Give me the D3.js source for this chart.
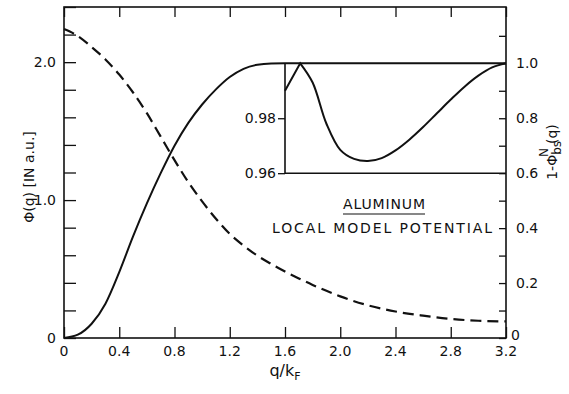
<!DOCTYPE html>
<html><head><meta charset="utf-8">
<script src="https://cdn.jsdelivr.net/npm/d3@7"></script>
<style>body{margin:0;background:#fff}svg{display:block}text{font-family:"DejaVu Sans",sans-serif;fill:#111}</style>
</head><body>
<svg id="c" width="569" height="394"></svg>
<script>
// Dashed curve: Phi(q) in a.u. (left axis)
const phiQ   = [0,0.1,0.2,0.3,0.4,0.5,0.6,0.7,0.8,0.9,1.0,1.1,1.2,1.3,1.4,1.5,1.6,1.7,1.8,1.9,2.0,2.2,2.4,2.6,2.8,3.0,3.2];
const phiVal = [2.24,2.19,2.11,2.02,1.91,1.78,1.63,1.46,1.29,1.13,0.99,0.865,0.755,0.67,0.597,0.537,0.482,0.432,0.385,0.342,0.302,0.237,0.192,0.162,0.138,0.125,0.12];
// Solid curve: 1 - Phi_bs^N(q) (right axis)
const bsQ   = [0,0.1,0.2,0.3,0.4,0.5,0.6,0.7,0.8,0.9,1.0,1.1,1.2,1.3,1.4,1.5,1.6,2.0,2.4,2.8,3.2];
const bsVal = [0,0.012,0.052,0.125,0.24,0.37,0.49,0.6,0.70,0.783,0.85,0.905,0.95,0.98,0.995,0.9995,1.0,1.0,1.0,1.0,1.0];
// Inset curve (after the straight rise from q=1.6 to the peak)
const insQ   = [1.6,1.71,1.8,1.9,2.0,2.1,2.2,2.3,2.4,2.5,2.6,2.7,2.8,2.9,3.0,3.1,3.2];
const insVal = [0.990,1.0,0.993,0.978,0.9685,0.9652,0.9644,0.9655,0.9683,0.9722,0.9768,0.9818,0.9868,0.9915,0.9955,0.9985,1.0];
// Tick labels
const xTicks = [0,0.4,0.8,1.2,1.6,2.0,2.4,2.8,3.2];
const leftLabels = [0,1.0,2.0];
const rightLabels = [0,0.2,0.4,0.6,0.8,1.0];
const insetLabels = [0.96,0.98];

const svg = d3.select("#c");
const L=64, R=506, T=7, B=338;
const x = d3.scaleLinear().domain([0,3.2]).range([L,R]);
const yL = d3.scaleLinear().domain([0,2.4]).range([B,T]);
const rTop = (B-T)/274.7;
const yR = d3.scaleLinear().domain([0,rTop]).range([B,T]);
const insTop = yR(1.0), insBot = yR(0.6);
const yI = d3.scaleLinear().domain([0.96,1.0]).range([insBot,insTop]);
const ink="#111";
const FF="DejaVu Sans, sans-serif";

svg.append("rect").attr("x",L).attr("y",T).attr("width",R-L).attr("height",B-T)
  .attr("fill","none").attr("stroke",ink).attr("stroke-width",1.6);

const fmt = d=> d===0?"0":d3.format(".1f")(d);
const gB = svg.append("g").attr("transform",`translate(0,${B})`)
  .call(d3.axisTop(x).tickValues(xTicks).tickSize(11).tickFormat(""));
const gT = svg.append("g").attr("transform",`translate(0,${T})`)
  .call(d3.axisBottom(x).tickValues(xTicks).tickSize(10).tickFormat(""));
const gL = svg.append("g").attr("transform",`translate(${L},0)`)
  .call(d3.axisRight(yL).tickValues(d3.range(0,2.41,0.2)).tickSize(12).tickFormat(""));
const gR = svg.append("g").attr("transform",`translate(${R},0)`)
  .call(d3.axisLeft(yR).tickValues(d3.range(0,1.15,0.1)).tickSize(7).tickFormat(""));
[gB,gT,gL,gR].forEach(g=>{g.select(".domain").remove();g.selectAll("line").attr("stroke",ink).attr("stroke-width",1.3);});

svg.append("g").selectAll("text").data(xTicks).join("text")
  .attr("x",d=>x(d)).attr("y",B+18).attr("text-anchor","middle").attr("font-size",14).text(fmt);
svg.append("g").selectAll("text").data(leftLabels).join("text")
  .attr("x",L-8).attr("y",d=>yL(d)+5).attr("text-anchor","end").attr("font-size",14).text(fmt);
svg.append("g").selectAll("text").data(rightLabels).join("text")
  .attr("x",d=>d===0?R+5:R+10).attr("y",d=>yR(d)+(d===0?2:5)).attr("text-anchor","start").attr("font-size",14).text(fmt);

svg.append("text").attr("transform",`translate(34,177) rotate(-90)`).attr("text-anchor","middle")
  .attr("font-size",14).text("Φ(q) [IN a.u.]");
const rt = svg.append("text").attr("transform",`translate(557,152) rotate(-90)`).attr("text-anchor","middle").attr("font-size",14);
rt.append("tspan").text("1-Φ");
rt.append("tspan").attr("dy",4).attr("font-size",12).text("bs");
rt.append("tspan").attr("dx",-16).attr("dy",-13).attr("font-size",12).text("N");
rt.append("tspan").attr("dx",4).attr("dy",9).text("(q)");
const xt = svg.append("text").attr("x",285).attr("y",376).attr("text-anchor","middle").attr("font-size",16);
xt.append("tspan").text("q/k");
xt.append("tspan").attr("dy",4).attr("font-size",11).text("F");

const line = (xs,ys,sy,c)=>d3.line().curve(c).x((d,i)=>x(xs[i])).y((d,i)=>sy(ys[i]))(xs);
svg.append("path").attr("d",line(phiQ,phiVal,yL,d3.curveMonotoneX)).attr("fill","none").attr("stroke",ink)
  .attr("stroke-width",2.2).attr("stroke-dasharray","11,6");
svg.append("path").attr("d",line(bsQ,bsVal,yR,d3.curveMonotoneX)).attr("fill","none").attr("stroke",ink).attr("stroke-width",2);

// inset
const iL = x(1.6);
svg.append("path").attr("d",`M${iL},${insTop}V${insBot}H${R}`).attr("fill","none").attr("stroke",ink).attr("stroke-width",1.6);
svg.append("g").attr("transform",`translate(${iL},0)`)
  .call(d3.axisLeft(yI).tickValues(insetLabels).tickSize(7).tickFormat(d3.format(".2f")))
  .call(g=>{g.select(".domain").remove();g.selectAll("line").attr("stroke",ink).attr("stroke-width",1.3);
    g.selectAll("text").attr("font-size",14).attr("font-family",FF).attr("fill",ink).attr("x",-9);});
const smooth = d3.line().curve(d3.curveCatmullRom.alpha(0.5)).x((d,i)=>x(insQ[i+1])).y((d,i)=>yI(insVal[i+1]))(insQ.slice(1));
svg.append("path").attr("d",`M${x(insQ[0])},${yI(insVal[0])}` + smooth.replace(/^M/,"L"))
  .attr("fill","none").attr("stroke",ink).attr("stroke-width",2);

svg.append("text").attr("x",384).attr("y",209).attr("text-anchor","middle").attr("font-size",14)
  .attr("textLength",82).attr("lengthAdjust","spacing").text("ALUMINUM");
svg.append("line").attr("x1",343).attr("x2",425).attr("y1",214).attr("y2",214).attr("stroke",ink).attr("stroke-width",1.2);
svg.append("text").attr("x",382).attr("y",233).attr("text-anchor","middle").attr("font-size",14)
  .attr("textLength",220).attr("lengthAdjust","spacing").text("LOCAL MODEL POTENTIAL");
</script>
</body></html>
